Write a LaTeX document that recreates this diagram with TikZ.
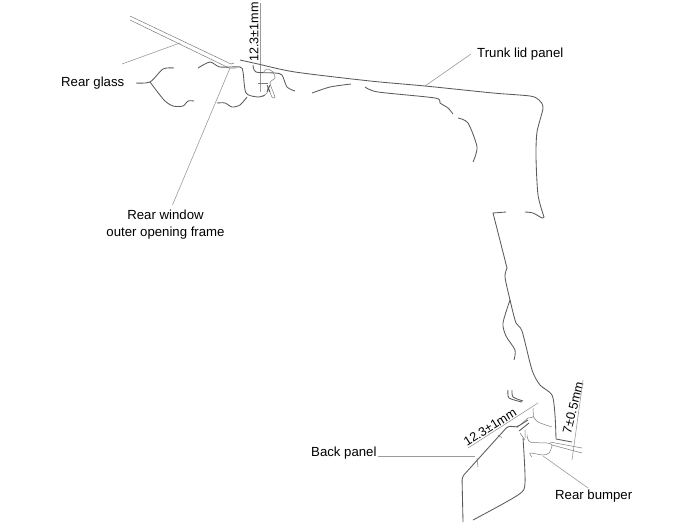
\documentclass[tikz,border=0pt]{standalone}
\usepackage{fontspec}
\setmainfont{Liberation Sans}
\usetikzlibrary{positioning}
\definecolor{leadergray}{RGB}{155,155,155}
\definecolor{panelgray}{RGB}{90,90,90}
\tikzset{
    panel/.style={color=panelgray, line width=0.85pt},
    thinpanel/.style={color=panelgray!80, line width=0.5pt},
    leader/.style={color=leadergray, line width=0.6pt},
    callout/.style={font=\fontsize{13.2}{17}\selectfont, text=black, inner sep=1pt},
    dimtext/.style={font=\fontsize{12.6}{15}\selectfont, text=black, inner sep=0pt}
}
\newcommand{\curve}[2][panel]{\draw[#1] plot[smooth, tension=0.45] coordinates {#2};}
\begin{document}
\begin{tikzpicture}[x=1pt, y=-1pt]
            \useasboundingbox (0,0) rectangle (700,527);
            % Labels
            \node[callout, anchor=west] (rearglass) at (60,83) {Rear glass};
            \node[callout, align=center] (rearwindow) at (165.5,225) {Rear window\\outer opening frame};
            \node[callout, anchor=west] (trunklid) at (476,54) {Trunk lid panel};
            \node[callout, anchor=west] (backpanel) at (310,453) {Back panel};
            \node[callout, anchor=west] (rearbumper) at (554,496) {Rear bumper};
            \node[dimtext, rotate=90] (dimtop) at (254,32) {12.3±1mm};
            \node[dimtext, rotate=32] (dimback) at (490,427) {12.3±1mm};
            \node[dimtext, rotate=76] (dimbumper) at (573,408) {7±0.5mm};
            % Leader ends
            \coordinate (glasspt) at (180,43);
            \coordinate (glassend) at (122,64);
            \coordinate (framept) at (230,68);
            \coordinate (frameend) at (172.5,205);
            \coordinate (lidpt) at (425,86);
            \coordinate (lidend) at (471,54);
            \coordinate (backpt) at (475,456);
            \coordinate (bumperpt) at (543,456);
            \coordinate (bumperend) at (588,488);
            % Leaders
            \draw[leader] (glassend) -- (glasspt);
            \draw[leader] (frameend) -- (framept);
            \draw[leader] (lidend) -- (lidpt);
            \draw[leader] (backpanel.east |- backpt) -- (backpt);
            \draw[leader] (bumperend) -- (bumperpt);
            % Dimension lines
            \draw[leader] (260,3) -- (260,92);
            \draw[leader] (468,448) -- (538,403);
            \draw[leader] (583,380) -- (572,460);
            % Rear glass
            \draw[thinpanel] (130,16) -- (231,64) -- (234,63);
            \draw[thinpanel] (130,20) -- (229,68) -- (236,68);
            % Trunk lid panel
            \curve{(240,60) (258,64) (295,72) (370,81) (425,86) (493,93) (530,96) (539,100) (543,108)
                 (537,132) (536,157) (538,195) (544,217)}
            \curve{(544,217) (542,218) (533,213) (525,212)}
            \draw[panel] (506,212) -- (493,213) -- (507,268);
            \curve{(507,268) (505,277) (510,300) (516,323) (522,331) (532,370) (540,385) (552,395) (555,415) (556,439)}
            \draw[panel] (556,439) -- (572,442);
            \curve{(510,300) (503,323) (506,336) (515,350) (514,360)}
            % Inner panel
            \curve{(136,83) (150,82) (163,69) (174,68)}
            \curve{(150,82) (164,100) (173,106) (183,106) (188,101) (194,101)}
            \curve{(198,68) (210,62) (220,67) (240,67) (243,72) (246,93) (258,97) (265,95)}
            \curve{(217,103) (225,103) (232,107) (240,105) (247,97)}
            \curve{(253,65) (256,72) (275,73) (282,75) (287,87) (295,91)}
            \curve{(312,93) (330,87) (351,84)}
            \curve{(365,87) (378,92) (435,98) (440,103) (448,108) (453,114)}
            \curve{(458,118) (468,123) (477,147) (473,162)}
            % Clip at trunk lid
            \curve[thinpanel]{(263,73) (267,69) (273,72) (275,78) (270,83) (275,97) (272,97) (268,88) (267,93) (262,97)}
            \draw[thinpanel] (258,83) -- (268,83);
            \draw[panel] (267,85) -- (270,92) (270,85) -- (267,92);
            % Back panel
            \draw[panel, rounded corners=3pt] (463,522) -- (462,477) -- (508,426) -- (518,427);
            \curve{(523,438) (525,483) (518,495) (473,520)}
            \draw[thinpanel] (498,435) -- (502,438) (477,458) -- (478,467);
            % Rear bumper
            \curve[thinpanel]{(527,435) (530,442) (547,443) (552,445) (549,453) (543,455) (530,453) (532,457)}
            \draw[thinpanel] (550,442) -- (582,448) (552,445) -- (582,453);
            \curve{(508,390) (509,398) (522,402)}
            \curve{(512,390) (513,397) (523,401)}
            \curve[thinpanel]{(533,408) (533,417) (528,418) (520,425) (513,427)}
            \curve[thinpanel]{(533,416) (538,422) (552,427)}
            % Seal
            \draw[panel] (517,427) -- (528,420) (519,431) -- (529,423);
            \draw[thinpanel] (520,433) -- (525,440) (525,438) -- (525,430);
\end{tikzpicture}
\end{document}
